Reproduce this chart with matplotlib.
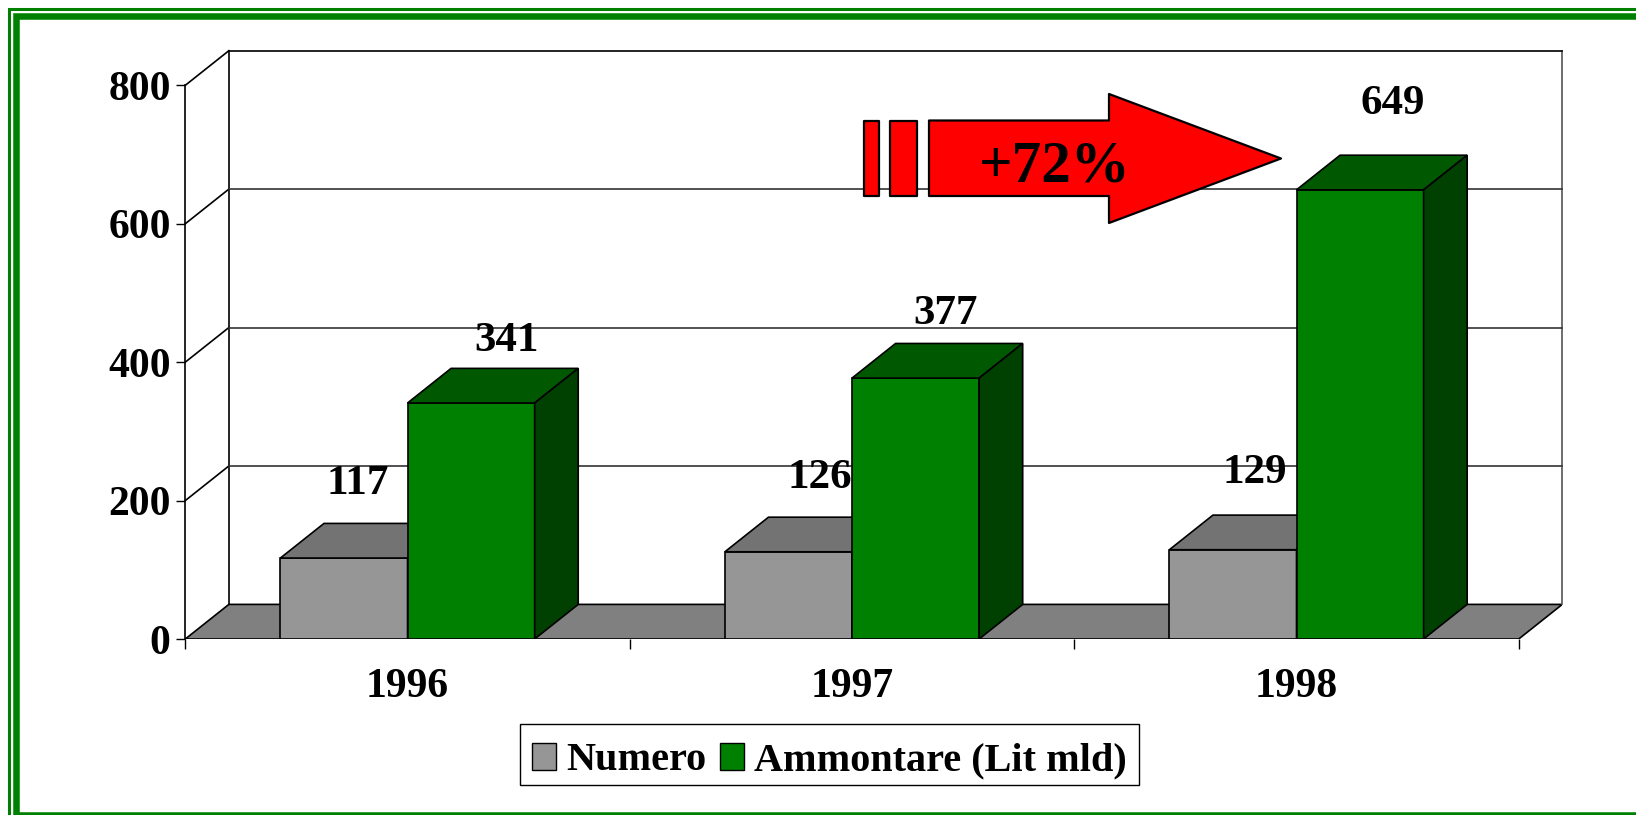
import matplotlib
matplotlib.use("Agg")
import matplotlib.pyplot as plt
from matplotlib.patches import Polygon, Rectangle, Patch

years = ["1996", "1997", "1998"]
numero = [117, 126, 129]
ammontare = [341, 377, 649]
y_ticks = [0, 200, 400, 600, 800]

#label offsets from the bar top, in pixels
numero_off = [(14, 74), (31, 74), (22, 77)]
ammontare_off = [(35, 62), (30, 64), (33, 86)]

W, H = 1636, 815
plt.rcParams["font.family"] = ["Liberation Serif", "DejaVu Serif"]
plt.rcParams["font.weight"] = "bold"
FS = 30

GREEN = "#008000"
GREY = "#969696"

fig = plt.figure(figsize=(W / 100, H / 100), dpi=100, facecolor="white")

#page frame, thin line outside and a thick one inside, runs off the right and bottom
fig.add_artist(Rectangle((9.3 / W, 1 - 1000 / H), 1700 / W, 991 / H, transform=fig.transFigure, fill=False, ec=GREEN, lw=2.2))
fig.add_artist(Rectangle((16.3 / W, 1 - 815 / H), 1700 / W, 799 / H, transform=fig.transFigure, fill=False, ec=GREEN, lw=4.7))

#axes box includes the 3d depth, front plane starts at 0,0
left, right, top, bottom = 185.3, 1562.3, 50.7, 639
ax = fig.add_axes([left / W, 1 - bottom / H, (right - left) / W, (bottom - top) / H])
depth_x = 0.098
depth_y = 50
n = len(years)
ax.set_xlim(0, n + depth_x)
ax.set_ylim(0, 800 + depth_y)
for s in ax.spines.values():
    s.set_visible(False)
ax.patch.set_visible(False)

ax.set_yticks(y_ticks)
ax.set_xticks(range(n + 1))
ax.set_xticklabels([])
ax.set_xticks([i + 0.5 for i in range(n)], minor=True)
ax.set_xticklabels(years, minor=True, fontsize=FS, fontweight="bold")
ax.tick_params(axis="x", which="major", length=7.5, width=1, direction="out")
ax.tick_params(axis="x", which="minor", length=0, pad=21)
ax.tick_params(axis="y", length=6.5, width=1, direction="out", labelsize=FS, pad=4)

line = dict(color="black", lw=1.2, zorder=1, clip_on=False)
#back wall, side wall and floor
ax.add_patch(Polygon([(0, 0), (n, 0), (n + depth_x, depth_y), (depth_x, depth_y)], fc="#808080", ec="black", lw=1.2, zorder=1))
ax.plot([0, 0], [0, 800], **line)
ax.plot([depth_x, depth_x], [depth_y, 800 + depth_y], **line)
ax.plot([n + depth_x, n + depth_x], [depth_y, 800 + depth_y], color="#555555", lw=1.2, zorder=1, clip_on=False)
for v in y_ticks[1:]:
    ax.plot([0, depth_x], [v, v + depth_y], **line)
    ax.plot([depth_x, n + depth_x], [v + depth_y, v + depth_y], color="#333333" if v < 800 else "black", lw=1.2, zorder=1, clip_on=False)


def box(x0, w, v, front, top_c, side, z):
    ax.bar(x0, v, width=w, align="edge", color=front, edgecolor="black", linewidth=1.2, zorder=z)
    x1 = x0 + w
    ax.add_patch(Polygon([(x0, v), (x1, v), (x1 + depth_x, v + depth_y), (x0 + depth_x, v + depth_y)], fc=top_c, ec="black", lw=1.2, zorder=z))
    ax.add_patch(Polygon([(x1, 0), (x1 + depth_x, depth_y), (x1 + depth_x, v + depth_y), (x1, v)], fc=side, ec="black", lw=1.2, zorder=z))


bar_w = 0.286
for i in range(n):
    box(i + 0.5 - bar_w, bar_w, numero[i], GREY, "#737373", "#4b4b4b", 2)
    ax.annotate(str(numero[i]), (i + 0.5 - bar_w / 2, numero[i]), xytext=numero_off[i], textcoords="offset pixels",
                ha="center", va="center", fontsize=31, fontweight="bold", zorder=2.5, annotation_clip=False)
for i in range(n):
    box(i + 0.5, bar_w, ammontare[i], GREEN, "#005900", "#004000", 3)
    ax.annotate(str(ammontare[i]), (i + 0.5 + bar_w / 2, ammontare[i]), xytext=ammontare_off[i], textcoords="offset pixels",
                ha="center", va="center", fontsize=31, fontweight="bold", zorder=4, annotation_clip=False)

#the red arrow with the two stripes behind it
def px(x, y):
    return (x / W, 1 - y / H)


red = dict(fc="#ff0000", ec="black", lw=1.6, transform=fig.transFigure, joinstyle="round", zorder=5)
fig.add_artist(Polygon([px(864, 120.5), px(878.5, 120.5), px(878.5, 196), px(864, 196)], **red))
fig.add_artist(Polygon([px(890, 120.5), px(917, 120.5), px(917, 196), px(890, 196)], **red))
fig.add_artist(Polygon([px(929, 120.5), px(1109, 120.5), px(1109, 94), px(1281, 158.5), px(1109, 223), px(1109, 196), px(929, 196)], **red))
fig.text(1055 / W, 1 - 167 / H, "+72%", fontsize=42.5, fontweight="bold", ha="center", va="center", zorder=6)

handles = [Patch(fc=GREY, ec="black", lw=1, label="Numero"), Patch(fc=GREEN, ec="black", lw=1, label="Ammontare (Lit mld)")]
leg = fig.legend(handles=handles, ncol=2, loc="center", bbox_to_anchor=(829.5 / W, 1 - 754.5 / H), frameon=True,
                 fancybox=False, edgecolor="black", framealpha=1, handlelength=0.6, handleheight=0.65, handletextpad=0.25,
                 columnspacing=0.35, borderpad=0.3, prop=dict(family="Liberation Serif", weight="bold", size=29))
#text and swatches sit a bit low in the box
for t in leg.get_texts():
    t.set_y(-6.3)
for p in leg.get_patches():
    p.set_y(p.get_y() - 4.5)

fig.savefig("out.png", dpi=100)
